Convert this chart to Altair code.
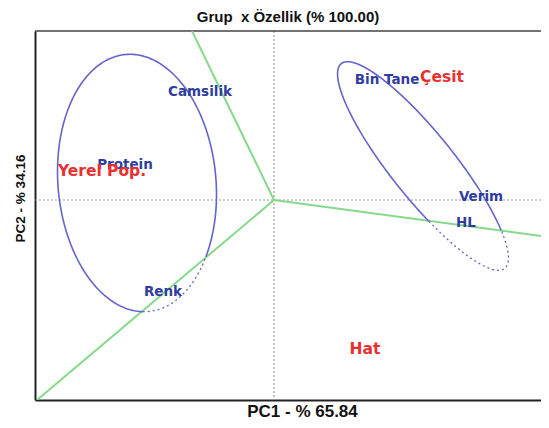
import altair as alt
import numpy as np
import pandas as pd

# ---- data (biplot coordinates, arbitrary PC units) ----
label_text = ["Camsilik", "Protein", "Yerel Pop.", "Bin Tane", "Çesit", "Verim", "HL", "Renk", "Hat"]
label_x = [-0.74, -1.49, -1.72, 1.13, 1.68, 2.07, 1.92, -1.11, 0.91]
label_y = [1.08, 0.35, 0.29, 1.20, 1.23, 0.03, -0.23, -0.92, -1.49]
label_kind = ["trait", "trait", "group", "trait", "group", "trait", "trait", "trait", "group"]

# lines from origin (sector boundaries)
ray_x = [-0.82, -2.37, 2.67]
ray_y = [1.69, -2.00, -0.36]

# ellipses: centre, semi-axes, angle, index of ray that cuts them
ell_cx = [-1.37, 1.49]
ell_cy = [0.17, 0.34]
ell_a = [1.29, 1.31]
ell_b = [0.79, 0.32]
ell_ang = [95.0, -51.4]
ell_ray = [1, 2]
ell_dotted_sign = [1, -1]

XDOM = [-2.39, 2.67]
YDOM = [-2.00, 1.69]
W, H = 506, 369

# ---- build tables ----
labels = pd.DataFrame({"x": label_x, "y": label_y, "t": label_text, "k": label_kind})
rays = pd.DataFrame({"x": [0.0] * 3, "y": [0.0] * 3, "x2": ray_x, "y2": ray_y})

rows = []
gid = 0
for e in range(len(ell_cx)):
    t = np.linspace(0, 2 * np.pi, 361)[:-1]
    th = np.deg2rad(ell_ang[e])
    ex = ell_a[e] * np.cos(t)
    ey = ell_b[e] * np.sin(t)
    px = ell_cx[e] + ex * np.cos(th) - ey * np.sin(th)
    py = ell_cy[e] + ex * np.sin(th) + ey * np.cos(th)
    dx, dy = ray_x[ell_ray[e]], ray_y[ell_ray[e]]
    cross = dx * py - dy * px
    dotted = (cross * ell_dotted_sign[e]) > 0
    n = len(px)
    ch = [i for i in range(n) if dotted[i] != dotted[i - 1]]
    start = ch[0] if ch else 0
    idx = [(start + i) % n for i in range(n)] + [start]
    cur = dotted[idx[0]]
    seg = [idx[0]]
    for j in idx[1:]:
        if dotted[j] != cur:
            seg.append(j)
            for k, s in enumerate(seg):
                rows.append({"x": px[s], "y": py[s], "g": gid, "o": k, "d": bool(cur)})
            gid += 1
            cur = dotted[j]
            seg = [j]
        else:
            seg.append(j)
    for k, s in enumerate(seg):
        rows.append({"x": px[s], "y": py[s], "g": gid, "o": k, "d": bool(cur)})
    gid += 1
ell = pd.DataFrame(rows)

xs = alt.Scale(domain=XDOM, nice=False, zero=False)
ys = alt.Scale(domain=YDOM, nice=False, zero=False)

xax = alt.Axis(title="PC1 - % 65.84", labels=False, ticks=False, grid=False,
               domainColor="#222", domainWidth=2, titleFont="Liberation Sans",
               titleFontSize=17, titleFontWeight="bold", titleColor="#111",
               titleX=267, titleY=11, titleBaseline="middle", titleAlign="center")
yax = alt.Axis(title="PC2 - % 34.16", labels=False, ticks=False, grid=False,
               domainColor="#222", domainWidth=2, titleFont="Liberation Sans",
               titleFontSize=13.5, titleFontWeight="bold", titleColor="#111",
               titleX=-15, titleY=167, titleBaseline="middle", titleAlign="center", titleAngle=270)

base_x = alt.X("x:Q", scale=xs, axis=xax)
base_y = alt.Y("y:Q", scale=ys, axis=yax)

zero_v = alt.Chart(pd.DataFrame({"x": [0.0]})).mark_rule(
    color="#999", strokeDash=[2, 2], strokeWidth=1.2).encode(x=alt.X("x:Q", scale=xs, axis=xax))
zero_h = alt.Chart(pd.DataFrame({"y": [0.0]})).mark_rule(
    color="#999", strokeDash=[2, 2], strokeWidth=1.2).encode(y=alt.Y("y:Q", scale=ys, axis=yax))

top_border = alt.Chart(pd.DataFrame({"a": [0]})).mark_rule(color="#444", strokeWidth=1.5).encode(
    x=alt.value(0), x2=alt.value(W), y=alt.value(0))

ray_layer = alt.Chart(rays).mark_rule(color="#86d98a", strokeWidth=2, clip=True).encode(
    x=base_x, y=base_y, x2="x2:Q", y2="y2:Q")

solid = alt.Chart(ell).transform_filter("!datum.d").mark_line(
    color="#6464cc", strokeWidth=1.6, clip=True).encode(
    x=base_x, y=base_y, detail="g:N", order="o:Q")
dots = alt.Chart(ell).transform_filter("datum.d").mark_line(
    color="#6464cc", strokeWidth=1.3, strokeDash=[2, 3], clip=True).encode(
    x=base_x, y=base_y, detail="g:N", order="o:Q")

trait_txt = alt.Chart(labels).transform_filter("datum.k == 'trait'").mark_text(
    font="DejaVu Sans", fontWeight="bold", fontSize=13.5, color="#2f3d9e",
    align="center", baseline="middle").encode(x=base_x, y=base_y, text="t:N")
group_txt = alt.Chart(labels).transform_filter("datum.k == 'group'").mark_text(
    font="DejaVu Sans", fontWeight="bold", fontSize=15.5, color="#e8302f",
    align="center", baseline="middle").encode(x=base_x, y=base_y, text="t:N")

chart = alt.layer(zero_v, zero_h, top_border, ray_layer, solid, dots, trait_txt, group_txt).properties(
    width=W, height=H,
    autosize=alt.AutoSizeParams(type="none"),
    padding={"left": 27, "top": 23, "right": 0, "bottom": 20},
    title=alt.TitleParams("Grup\u00a0 x Özellik (% 100.00)", anchor="middle", font="Liberation Sans",
                          fontSize=15, fontWeight="bold", color="#111", offset=5),
).configure_view(stroke=None)

chart.save("out.html", embed_options={"renderer": "svg", "actions": False})
